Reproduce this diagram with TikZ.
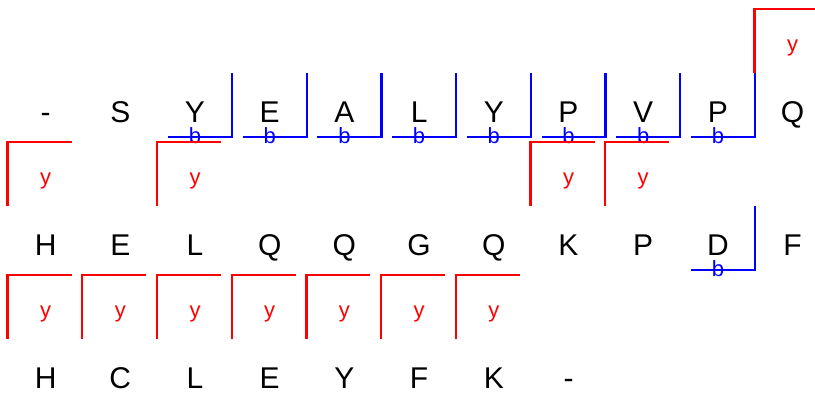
\documentclass[tikz,border=0pt]{standalone}
\usepackage{fontspec}
\setmainfont{Liberation Sans}
\usepackage{xcolor}
\definecolor{ionBlue}{HTML}{0000FF}
\definecolor{ionRed}{HTML}{FF0000}

\begin{document}
\begin{tikzpicture}[x=1pt,y=-1pt]
  \tikzset{
    residue/.style={font=\fontsize{30}{30}\selectfont,anchor=base,inner sep=0pt},
    ionlabel/.style={font=\fontsize{22}{22}\selectfont,anchor=base,inner sep=0pt},
    bbracket/.style={draw=ionBlue,line width=2.3pt},
    ybracket/.style={draw=ionRed,line width=2.3pt}
  }
  \useasboundingbox (0,0) rectangle (815,392);

  % sequence rows
  \foreach \aa [count=\i from 0, evaluate=\i as \x using {45.6+74.7*\i}] in {-,S,Y,E,A,L,Y,P,V,P,Q}
    {\node[residue] (res-1-\i) at (\x,122) {\aa};}
  \foreach \aa [count=\i from 0, evaluate=\i as \x using {45.6+74.7*\i}] in {H,E,L,Q,Q,G,Q,K,P,D,F}
    {\node[residue] (res-2-\i) at (\x,255) {\aa};}
  \foreach \aa [count=\i from 0, evaluate=\i as \x using {45.6+74.7*\i}] in {H,C,L,E,Y,F,K,-}
    {\node[residue] (res-3-\i) at (\x,388) {\aa};}

  % b ions
  \foreach \c/\r [evaluate=\c as \x using {45.6+74.7*\c}, evaluate=\r as \yb using {122+133*(\r-1)}]
    in {2/1,3/1,4/1,5/1,6/1,7/1,8/1,9/1,9/2}
    {\draw[bbracket] (\x-27,\yb+15) -- (\x+37,\yb+15) -- (\x+37,\yb-49);
     \node[ionlabel,text=ionBlue] (b-\r-\c) at (\x,\yb+21) {b};}

  % y ions
  \foreach \c/\r [evaluate=\c as \x using {45.6+74.7*\c}, evaluate=\r as \yb using {122+133*(\r-1)}]
    in {10/0,0/1,2/1,7/1,8/1,0/2,1/2,2/2,3/2,4/2,5/2,6/2}
    {\draw[ybracket] (\x+26,\yb+20) -- (\x-38,\yb+20) -- (\x-38,\yb+84);
     \node[ionlabel,text=ionRed] (y-\r-\c) at (\x,\yb+62) {y};}
\end{tikzpicture}
\end{document}
